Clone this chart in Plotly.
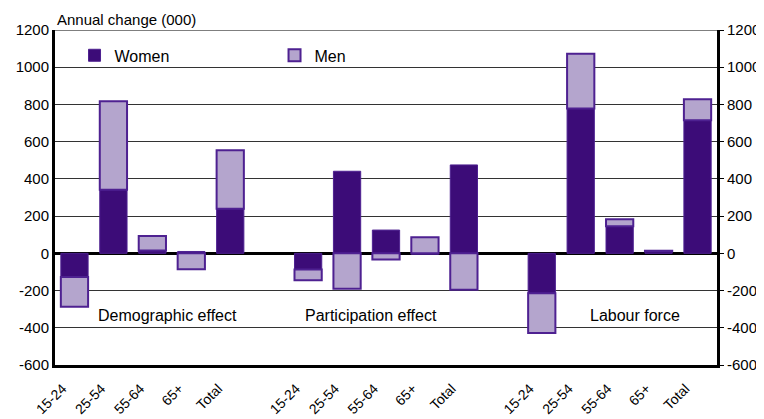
import plotly.graph_objects as go

groups = ["Demographic effect", "Participation effect", "Labour force"]
ages = ["15-24", "25-54", "55-64", "65+", "Total"]

women = [
    [-127, 342, 15, 10, 240],     # Demographic effect
    [-87, 441, 125, -5, 475],     # Participation effect
    [-215, 778, 145, 12, 715],    # Labour force
]
men = [
    [-160, 475, 78, -85, 314],
    [-58, -190, -33, 87, -195],
    [-213, 295, 38, 2, 113],
]

y_ticks = [-600, -400, -200, 0, 200, 400, 600, 800, 1000, 1200]

# positions: 5 bars per group, one empty slot between groups
xs, tick_text, w_vals, m_vals = [], [], [], []
for g in range(len(groups)):
    for i, a in enumerate(ages):
        xs.append(g * (len(ages) + 1) + i)
        tick_text.append(a)
        w_vals.append(women[g][i])
        m_vals.append(men[g][i])

DARK = "#3c0c78"
LIGHT = "#b4a5cd"
EDGE = "#4e2191"
FONT = "Liberation Sans, Arial, sans-serif"

fig = go.Figure()
fig.add_trace(go.Bar(x=xs, y=w_vals, name="Women", marker=dict(color=DARK, line=dict(color=EDGE, width=1))))
fig.add_trace(go.Bar(x=xs, y=m_vals, name="Men", marker=dict(color=LIGHT, line=dict(color=EDGE, width=2))))
# invisible trace for the right axis
fig.add_trace(go.Scatter(x=[xs[0]], y=[0], yaxis="y2", mode="markers", marker=dict(opacity=0), showlegend=False, hoverinfo="skip"))

n_slots = len(groups) * (len(ages) + 1) - 1
label_x = [2.38, 7.61, 14.4]
for g, name in enumerate(groups):
    fig.add_annotation(x=label_x[g], y=-333, text=name, showarrow=False, xref="x", yref="y",
                       font=dict(family=FONT, size=16, color="black"))

fig.add_annotation(x=0, y=1.0, xref="paper", yref="paper", xanchor="left", yanchor="bottom",
                   text="Annual change (000)", showarrow=False, yshift=0,
                   font=dict(family=FONT, size=15, color="black"))

axis_common = dict(range=[-600, 1200], tickvals=y_ticks, ticktext=[str(v) for v in y_ticks],
                   tickfont=dict(family=FONT, size=15, color="black"), fixedrange=True, automargin=False)

# the page body has an 8px default margin, so the figure is sized to fill the rest of the window
fig.update_layout(
    width=756, height=411,
    margin=dict(l=47, r=47, t=22, b=54),
    paper_bgcolor="white", plot_bgcolor="white",
    barmode="relative", bargap=0.3,
    font=dict(family=FONT, color="black"),
    xaxis=dict(range=[-0.5, n_slots - 0.5], tickvals=xs, ticktext=tick_text, tickangle=-45,
               tickfont=dict(family=FONT, size=14, color="black"), showgrid=False, automargin=False,
               ticklabelstandoff=7, ticklabelshift=-12,
               showline=True, linecolor="black", linewidth=3, ticks="", zeroline=False),
    yaxis=dict(**axis_common, showgrid=True, gridcolor="#333333", gridwidth=1,
               zeroline=True, zerolinecolor="black", zerolinewidth=3,
               showline=True, linecolor="black", linewidth=3, ticks="", ticklen=0),
    yaxis2=dict(**axis_common, overlaying="y", side="right", showgrid=False, zeroline=False,
                showline=True, linecolor="black", linewidth=3, ticks="outside", ticklen=4, tickcolor="black"),
    legend=dict(orientation="h", x=0.0295, y=0.975, xanchor="left", yanchor="top",
                entrywidth=155, entrywidthmode="pixels", bgcolor="rgba(0,0,0,0)",
                font=dict(family=FONT, size=16, color="black"), traceorder="normal"),
    showlegend=True,
)
fig.add_shape(type="line", xref="paper", yref="y", x0=0, x1=1, y0=1200, y1=1200,
              line=dict(color="black", width=1))

fig.write_html("out.html")
